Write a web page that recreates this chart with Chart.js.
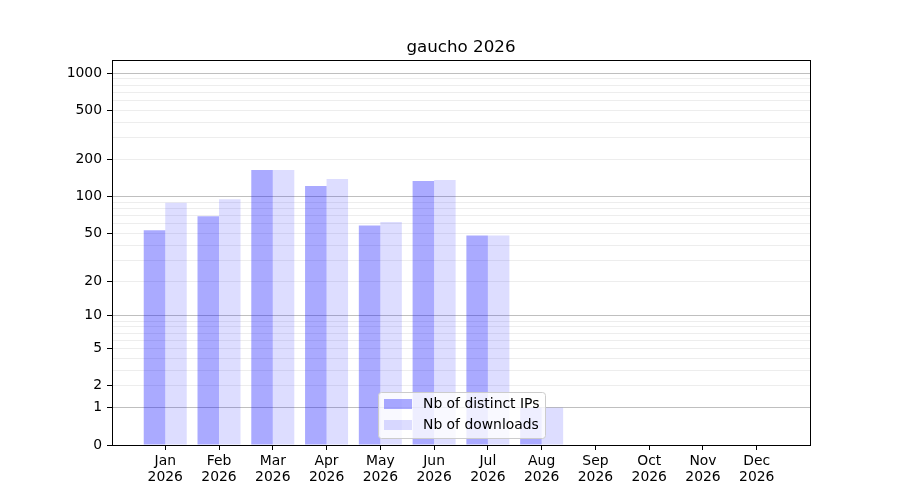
<!DOCTYPE html>
<html>
<head>
<meta charset="utf-8">
<script src="https://cdn.jsdelivr.net/npm/chart.js@4/dist/chart.umd.min.js"></script>
<style>
  html, body { margin: 0; padding: 0; background: #fff; }
  #wrap { width: 900px; height: 500px; }
</style>
</head>
<body>
<div id="wrap"><canvas id="chart" width="900" height="500"></canvas></div>
<script>
// data
const months = ["Jan", "Feb", "Mar", "Apr", "May", "Jun", "Jul", "Aug", "Sep", "Oct", "Nov", "Dec"];
const year = "2026";
const distinctIPs = [53, 69, 164, 122, 58, 134, 48, 1, 0, 0, 0, 0];
const downloads = [89, 95, 164, 139, 62, 136, 48, 1, 0, 0, 0, 0];

// y axis ticks (log(1+x) scale)
const yLabelled = [0, 1, 2, 5, 10, 20, 50, 100, 200, 500, 1000];
const yMajorGrid = [1, 10, 100, 1000];
const yMinorGrid = [2, 3, 4, 5, 6, 7, 8, 9, 20, 30, 40, 50, 60, 70, 80, 90, 200, 300, 400, 500, 600, 700, 800, 900];

const FONT = "'DejaVu Sans', sans-serif";

// transform used by the y axis
function tf(v) { return Math.log10(v + 1); }
function untf(t) { return Math.round(Math.pow(10, t) - 1); }

const allGrid = [0].concat(yMajorGrid, yMinorGrid).sort((a, b) => a - b);

// frame round the plot area, like matplotlib spines
const framePlugin = {
    id: "frame",
    afterDatasetsDraw(chart) {
        const a = chart.chartArea;
        const ctx = chart.ctx;
        ctx.save();
        ctx.strokeStyle = "#000";
        ctx.lineWidth = 1;
        ctx.strokeRect(Math.round(a.left) + 0.5, Math.round(a.top) + 0.5,
            Math.round(a.right - a.left), Math.round(a.bottom - a.top));
        ctx.restore();
    }
};

// legend inside the plot, lower centre
const boxLegend = {
    id: "boxLegend",
    afterDraw(chart) {
        const ctx = chart.ctx;
        const x = 378, y = 392, w = 167, h = 46;
        ctx.save();
        ctx.fillStyle = "rgba(255,255,255,0.8)";
        ctx.strokeStyle = "#cccccc";
        ctx.lineWidth = 1;
        ctx.beginPath();
        ctx.roundRect(x + 0.5, y + 0.5, w, h, 3);
        ctx.fill();
        ctx.stroke();
        ctx.font = "13.9px " + FONT;
        ctx.textBaseline = "middle";
        chart.data.datasets.forEach((ds, i) => {
            const rowY = 404 + i * 21;
            ctx.fillStyle = ds.backgroundColor;
            ctx.fillRect(384, rowY - 5, 28, 10);
            ctx.fillStyle = "#000";
            ctx.fillText(ds.label, 423, rowY);
        });
        ctx.restore();
    }
};

new Chart(document.getElementById("chart"), {
    type: "bar",
    data: {
        datasets: [
            {
                label: "Nb of distinct IPs",
                data: distinctIPs.map((v, i) => ({ x: i, y: tf(v) })),
                backgroundColor: "rgba(0,0,255,0.333)",
                borderWidth: 0,
                inflateAmount: 0,
                barPercentage: 1.0,
                categoryPercentage: 0.8
            },
            {
                label: "Nb of downloads",
                data: downloads.map((v, i) => ({ x: i, y: tf(v) })),
                backgroundColor: "rgba(0,0,255,0.133)",
                borderWidth: 0,
                inflateAmount: 0,
                barPercentage: 1.0,
                categoryPercentage: 0.8
            }
        ]
    },
    options: {
        responsive: false,
        animation: false,
        layout: { padding: { left: 0, right: 90, top: 0, bottom: 0 } },
        plugins: {
            legend: { display: false },
            tooltip: { enabled: false },
            title: {
                display: true,
                fullSize: false,   // centred over the plot area, not the canvas
                text: "gaucho " + year,
                color: "#000",
                font: { family: FONT, size: 16.7, weight: "normal", lineHeight: 1.2 },
                padding: { top: 38, bottom: 2 }
            }
        },
        scales: {
            x: {
                type: "linear",
                offset: false,
                min: -0.99,
                max: 11.99,
                afterBuildTicks: (scale) => {
                    scale.ticks = months.map((m, i) => ({ value: i }));
                },
                afterFit: (scale) => { scale.height = 55; },
                grid: { display: true, offset: false, drawOnChartArea: false, tickLength: 5, tickColor: "#000" },
                border: { display: false },
                ticks: {
                    autoSkip: false,
                    maxRotation: 0,
                    padding: 3,
                    color: "#000",
                    font: { family: FONT, size: 13.9, lineHeight: 1.15 },
                    callback: (value) => [months[value], year]
                }
            },
            y: {
                type: "linear",
                min: 0,
                max: 3.105,
                afterBuildTicks: (scale) => {
                    scale.ticks = allGrid.map(v => ({ value: tf(v) }));
                },
                afterFit: (scale) => { scale.width = 112; },
                grid: {
                    tickLength: 5,
                    color: (c) => {
                        const v = untf(c.tick.value);
                        if (v === 0) return "rgba(0,0,0,0)";
                        return yMajorGrid.includes(v) ? "rgba(0,0,0,0.25)" : "rgba(0,0,0,0.07)";
                    },
                    tickColor: (c) => yLabelled.includes(untf(c.tick.value)) ? "#000" : "rgba(0,0,0,0)"
                },
                border: { display: false },
                ticks: {
                    autoSkip: false,
                    padding: 5,
                    color: "#000",
                    font: { family: FONT, size: 13.9 },
                    callback: (value) => {
                        const v = untf(value);
                        return yLabelled.includes(v) ? String(v) : "";
                    }
                }
            }
        }
    },
    plugins: [framePlugin, boxLegend]
});
</script>
</body>
</html>
